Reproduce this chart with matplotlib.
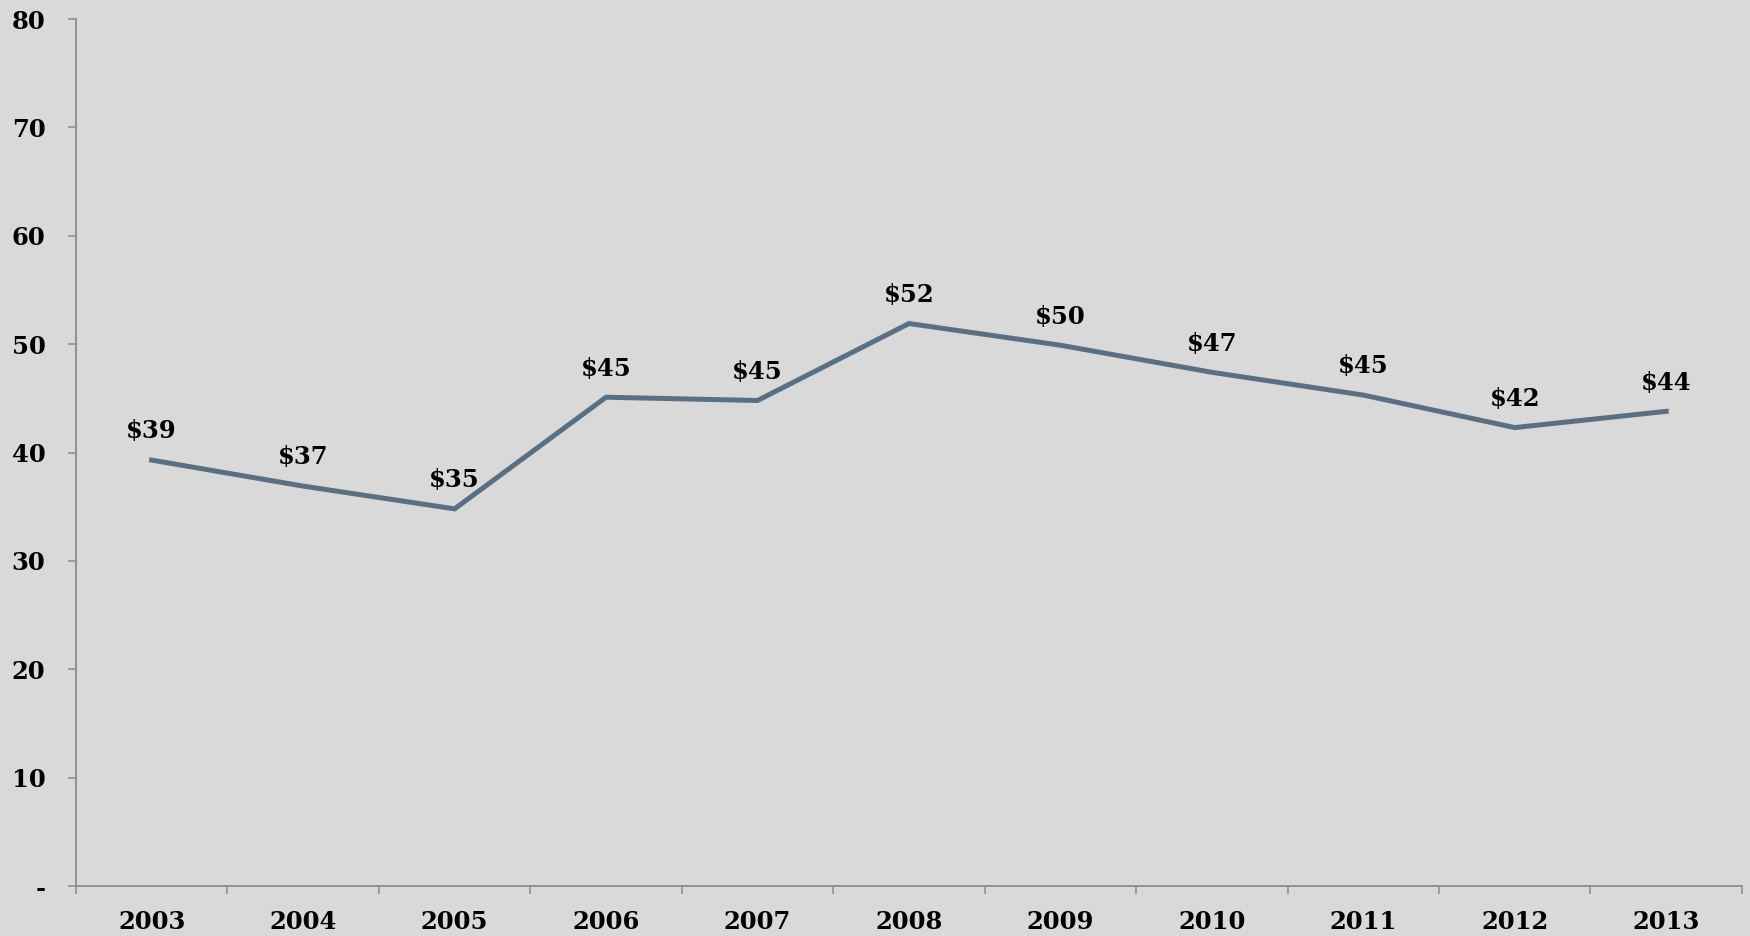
import matplotlib
matplotlib.use("Agg")
import matplotlib.pyplot as plt
import numpy as np

years = ["2003", "2004", "2005", "2006", "2007", "2008", "2009", "2010", "2011", "2012", "2013"]
values = [39.3, 36.9, 34.8, 45.1, 44.8, 51.9, 49.9, 47.4, 45.3, 42.3, 43.8]
labels = ["$39", "$37", "$35", "$45", "$45", "$52", "$50", "$47", "$45", "$42", "$44"]
yticks = [0, 10, 20, 30, 40, 50, 60, 70, 80]
ytick_labels = ["-", "10", "20", "30", "40", "50", "60", "70", "80"]

bg = "#d9d9d9"
font = dict(family="DejaVu Serif", fontweight="bold")

fig = plt.figure(figsize=(17.5, 9.36), dpi=100, facecolor=bg)
ax = fig.add_axes([0.0434, 0.0534, 0.952, 0.9263], facecolor=bg)

x = np.arange(len(years))
ax.plot(x, values, color="#5b6f82", linewidth=3.6, solid_joinstyle="miter")

for xi, v, lab in zip(x, values, labels):
    ax.annotate(lab, (xi, v), xytext=(0, 12), textcoords="offset points",
                ha="center", va="bottom", fontsize=17.5, color="black", **font)

ax.set_xlim(-0.5, len(years) - 0.5)
ax.set_ylim(0, 80)

# category labels in the middle, tick marks on the boundaries
ax.set_xticks(x)
ax.set_xticklabels(years, fontsize=17.5, **font)
ax.set_xticks(np.arange(-0.5, len(years)), minor=True)
ax.tick_params(axis="x", which="major", length=0, pad=17)
ax.tick_params(axis="x", which="minor", length=5.5, width=1.1, color="#8c8c8c", direction="out")

ax.set_yticks(yticks)
ax.set_yticklabels(ytick_labels, fontsize=17.5, **font)
ax.tick_params(axis="y", length=6, width=1.1, color="#8c8c8c", direction="out", pad=16)

for s in ["top", "right"]:
    ax.spines[s].set_visible(False)
for s in ["left", "bottom"]:
    ax.spines[s].set_color("#8c8c8c")
    ax.spines[s].set_linewidth(1.3)

plt.savefig("out.png", facecolor=bg)
